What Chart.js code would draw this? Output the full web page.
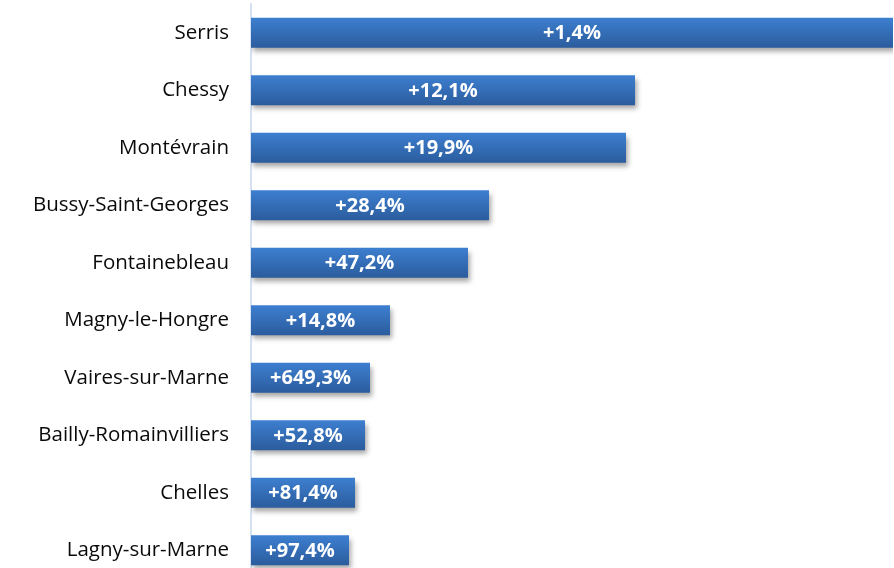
<!DOCTYPE html>
<html>
<head>
<meta charset="utf-8">
<script src="https://cdn.jsdelivr.net/npm/chart.js@4/dist/chart.umd.min.js"></script>
<style>
html,body{margin:0;padding:0;background:#fff;overflow:hidden;}
#wrap{width:894px;height:568px;overflow:hidden;position:relative;}
#box{width:894px;height:579px;position:absolute;left:0;top:0;}
</style>
</head>
<body>
<div id="wrap"><div id="box"><canvas id="c"></canvas></div></div>
<script>
const categories = ["Serris","Chessy","Montévrain","Bussy-Saint-Georges","Fontainebleau","Magny-le-Hongre","Vaires-sur-Marne","Bailly-Romainvilliers","Chelles","Lagny-sur-Marne"];
const barValues = [642, 384, 375, 238, 217, 139, 119, 114, 104, 98];
const labelTexts = ["+1,4%","+12,1%","+19,9%","+28,4%","+47,2%","+14,8%","+649,3%","+52,8%","+81,4%","+97,4%"];

function barFill(context) {
  const chart = context.chart;
  const el = chart.getDatasetMeta(0).data[context.dataIndex];
  if (!el || el.y === undefined || isNaN(el.y)) return '#3470bb';
  const h = el.height || 30;
  const g = chart.ctx.createLinearGradient(0, el.y - h/2, 0, el.y + h/2);
  g.addColorStop(0, '#3d7fd0');
  g.addColorStop(1, '#2b5c9d');
  return g;
}

const gradPlugin = {
  id: 'grad',
  beforeDatasetsDraw(chart) {
    const ctx = chart.ctx;
    const meta = chart.getDatasetMeta(0);
    meta.data.forEach(el => {
      const h = el.height;
      const g = ctx.createLinearGradient(0, el.y - h/2, 0, el.y + h/2);
      g.addColorStop(0, '#3d7fd0');
      g.addColorStop(1, '#2b5c9d');
      el.options = Object.assign({}, el.options, { backgroundColor: g });
    });
  },
  beforeDatasetDraw(chart) {
    const ctx = chart.ctx;
    ctx.save();
    ctx.shadowColor = 'rgba(0,0,0,0.35)';
    ctx.shadowBlur = 5;
    ctx.shadowOffsetX = 2;
    ctx.shadowOffsetY = 4;
  },
  afterDatasetDraw(chart) {
    chart.ctx.restore();
  },
  afterDatasetsDraw(chart) {
    const ctx = chart.ctx;
    const meta = chart.getDatasetMeta(0);
    ctx.save();
    ctx.fillStyle = '#ffffff';
    ctx.font = 'bold 20px "Open Sans", Lato, sans-serif';
    ctx.textAlign = 'center';
    ctx.textBaseline = 'middle';
    meta.data.forEach((el, i) => {
      const cx = (el.base + el.x) / 2;
      ctx.fillText(labelTexts[i], cx, el.y + 1);
    });
    ctx.restore();
  }
};

new Chart(document.getElementById('c'), {
  type: 'bar',
  data: {
    labels: categories,
    datasets: [{
      data: barValues,
      backgroundColor: barFill,
      borderWidth: 0,
      barPercentage: 0.522,
      categoryPercentage: 1
    }]
  },
  options: {
    indexAxis: 'y',
    responsive: true,
    maintainAspectRatio: false,
    animation: false,
    layout: { padding: { top: 4, right: 1, left: 0, bottom: 0 } },
    plugins: { legend: { display: false }, tooltip: { enabled: false } },
    scales: {
      x: { display: false, min: 0, max: 642 },
      y: {
        grid: { display: false, drawTicks: false },
        border: { display: true, color: '#d6e2f3', width: 2 },
        ticks: {
          color: '#0a0a0a',
          padding: 22,
          font: { family: '"Open Sans", Lato, sans-serif', size: 20.5 }
        },
        afterFit(scale) { scale.width = 251; scale.paddingTop = 0; scale.paddingBottom = 0; }
      }
    }
  },
  plugins: [gradPlugin]
});
</script>
</body>
</html>
